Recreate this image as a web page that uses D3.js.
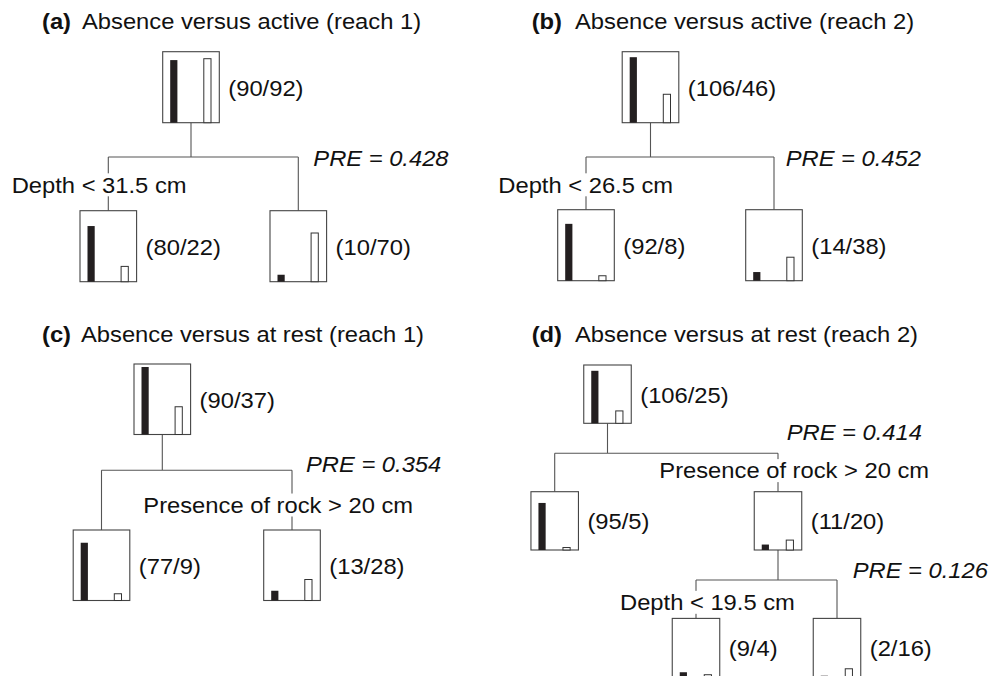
<!DOCTYPE html>
<html><head><meta charset="utf-8">
<script src="https://cdn.jsdelivr.net/npm/d3@7"></script>
<style>
body { margin: 0; background: #fff }
svg { display: block; font-family: "Liberation Sans", Arial, Helvetica, sans-serif }
text { fill: #111; font-size: 22px }
.tag { font-weight: bold }
.pre { font-style: italic }
.link { stroke: #555; stroke-width: 1.1; fill: none }
.box { fill: #fff; stroke: #444; stroke-width: 1.1 }
.bar0 { fill: #231f20 }
.bar1 { fill: #fff; stroke: #333; stroke-width: 1 }
</style></head>
<body><svg width="991" height="676"></svg>
<script>
'use strict'

let panels = ['a', 'b', 'c', 'd'],
	titles = [
		'Absence versus active (reach 1)', 'Absence versus active (reach 2)',
		'Absence versus at rest (reach 1)', 'Absence versus at rest (reach 2)' ],
	// panel, node, parent, absence count, presence count
	nodes = [
		['a', 'n0', '', 90, 92], ['a', 'n1', 'n0', 80, 22], ['a', 'n2', 'n0', 10, 70],
		['b', 'n0', '', 106, 46], ['b', 'n1', 'n0', 92, 8], ['b', 'n2', 'n0', 14, 38],
		['c', 'n0', '', 90, 37], ['c', 'n1', 'n0', 77, 9], ['c', 'n2', 'n0', 13, 28],
		['d', 'n0', '', 106, 25], ['d', 'n1', 'n0', 95, 5], ['d', 'n2', 'n0', 11, 20],
		['d', 'n3', 'n2', 9, 4], ['d', 'n4', 'n2', 2, 16] ],
	// panel, split node, rule, PRE
	splits = [
		['a', 'n0', 'Depth < 31.5 cm', 0.428],
		['b', 'n0', 'Depth < 26.5 cm', 0.452],
		['c', 'n0', 'Presence of rock > 20 cm', 0.354],
		['d', 'n0', 'Presence of rock > 20 cm', 0.414],
		['d', 'n2', 'Depth < 19.5 cm', 0.126] ]

// layout of each panel (pixels)
let sx = 1.08, // the original type is stretched horizontally
	lay = {
		a: {title: [42, 82, 29.3], top: 51.7, step: 159, w: 56.6, h: 71, elbow: 34.3, barMax: 64,
			cx: {n0: 191, n1: 108.3, n2: 298.3},
			rule: {n0: [11.7, 192.5]}, pre: {n0: [313.3, 166]}},
		b: {title: [531.7, 575, 29.3], top: 51.7, step: 158, w: 56.6, h: 71, elbow: 34.3, barMax: 65.5,
			cx: {n0: 650.5, n1: 586, n2: 774},
			rule: {n0: [498.3, 192.5]}, pre: {n0: [785.7, 166]}},
		c: {title: [42, 81, 341.7], top: 364, step: 166, w: 56.6, h: 70.5, elbow: 35.7, barMax: 67.5,
			cx: {n0: 162.3, n1: 101.5, n2: 292},
			rule: {n0: [143.3, 512.7]}, pre: {n0: [306, 471.7]}},
		d: {title: [531.7, 575, 341.7], top: 365, step: 126.7, w: 47.5, h: 58.3, elbow: 30, barMax: 52.5,
			cx: {n0: 607.5, n1: 554.7, n2: 778, n3: 696, n4: 837},
			rule: {n0: [659.3, 478.3], n2: [620, 610]},
			pre: {n0: [786.7, 440], n2: [852.7, 578.3]}} }

let svg = d3.select('svg')

let txt = (g, x, y, s, cls) => g.append('text')
	.attr('class', cls || null)
	.attr('transform', `translate(${x} ${y}) scale(${sx} 1)`)
	.text(s)

panels.forEach((p, pi) => {
	let L = lay[p],
		g = svg.append('g').attr('class', `panel ${p}`),
		root = d3.stratify().id(d => d[1]).parentId(d => d[2] || null)(nodes.filter(d => d[0] === p)),
		y_top = d3.scaleLinear().domain([0, 1]).range([L.top, L.top + L.step]),
		y_bar = d3.scaleLinear().domain([0, d3.max(root.data.slice(3))]).range([0, L.barMax]),
		x_bar = d3.scalePoint().domain([0, 1]).range([7.5, L.w - 15.5]),
		bw = 7.2

	root.each(n => { n.x = L.cx[n.id]; n.y = y_top(n.depth) })

	// connectors
	root.each(n => {
		if (!n.children) return
		let ey = n.y + L.h + L.elbow, xs = n.children.map(c => c.x)
		g.append('path').attr('class', 'link').attr('d',
			`M${n.x},${n.y + L.h}V${ey}M${d3.min(xs)},${ey}H${d3.max(xs)}`
			+ n.children.map(c => `M${c.x},${ey}V${c.y}`).join(''))
	})

	// split rules (white behind, they cut the links) and PRE
	splits.filter(d => d[0] === p).forEach(([, id, rule, pre]) => {
		let [rx, ry] = L.rule[id],
			t = txt(g, rx, ry, rule),
			bb = t.node().getBBox()
		g.insert('rect', () => t.node())
			.attr('transform', t.attr('transform'))
			.attr('x', bb.x - 1).attr('y', bb.y + 1)
			.attr('width', bb.width + 2).attr('height', bb.height - 2)
			.attr('fill', '#fff')
		let [px, py] = L.pre[id]
		txt(g, px, py, `PRE = ${pre.toFixed(3)}`, 'pre')
	})

	// nodes
	root.each(n => {
		let bx = n.x - L.w / 2, ng = g.append('g').attr('transform', `translate(${bx} ${n.y})`)
		ng.append('rect').attr('class', 'box').attr('width', L.w).attr('height', L.h)
		ng.selectAll('rect.bar').data(n.data.slice(3)).join('rect')
			.attr('class', (d, i) => `bar bar${i}`)
			.attr('x', (d, i) => x_bar(i)).attr('width', bw)
			.attr('y', d => L.h - y_bar(d)).attr('height', d => y_bar(d))
		txt(g, bx + L.w + 9, n.y + L.h / 2 + 8.5, `(${n.data[3]}/${n.data[4]})`)
	})

	// title
	let [tx, ttx, ty] = L.title
	txt(g, tx, ty, `(${p})`, 'tag')
	txt(g, ttx, ty, titles[pi])
})
</script>
</body></html>
